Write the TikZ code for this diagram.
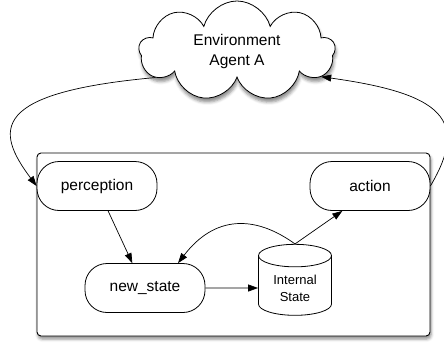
\documentclass[tikz,border=0pt]{standalone}
\usepackage{fontspec}
\setmainfont{Liberation Sans}
\usetikzlibrary{shapes.symbols,shapes.geometric,arrows.meta,shadows.blur}

\tikzset{
  frame/.style={draw, line width=0.9pt, rounded corners=4pt, fill=white,
    blur shadow={shadow xshift=1pt, shadow yshift=-3pt, shadow blur radius=3pt, shadow opacity=45}},
  stepbox/.style={draw, line width=0.8pt, rounded corners=22pt, fill=white,
    minimum width=120pt, minimum height=49pt, font=\fontsize{15.5}{18}\selectfont},
  store/.style={draw, line width=0.8pt, cylinder, shape border rotate=90, aspect=0.45,
    minimum width=73pt, minimum height=71pt, fill=white, align=center,
    font=\fontsize{13}{17}\selectfont},
  world/.style={draw, line width=0.8pt, cloud, cloud puffs=9, aspect=2.1, fill=white,
    minimum width=196pt, minimum height=100pt, align=center,
    blur shadow={shadow xshift=1pt, shadow yshift=-4pt, shadow blur radius=3pt, shadow opacity=45},
    font=\fontsize{15.5}{20}\selectfont},
  flow/.style={-{Triangle[length=10pt,width=7pt]}, line width=0.7pt}
}

\begin{document}
\begin{tikzpicture}[x=1pt,y=-1pt] %% pixel coordinates, y downwards
  \useasboundingbox (0,0) rectangle (444,345);

  %% the agent
  \node[frame, minimum width=393pt, minimum height=183pt] (agent) at (233.5,244.5) {};
  \node[stepbox] (perc) at (97,186) {perception};
  \node[stepbox] (act) at (370,186) {action};
  \node[stepbox] (new) at (145,288) {new\_state};
  \node[store] (state) at (295,288) {Internal\\State};

  %% the world round it
  \node[world] (env) at (237,51) {Environment\\Agent A};

  \draw[flow] (perc.294) -- (new.117);
  \draw[flow] (new.east) -- (state.west);
  \draw[flow] (state.north) -- (act.222);
  \draw[flow] (state.north) .. controls (255,215) and (215,215) .. (new.37);
  \draw[flow] (env.198) .. controls +(-165,15) and +(-42,-56) .. (perc.west);
  \draw[flow] (act.east) .. controls +(39,-66) and +(122,17) .. (env.343);
\end{tikzpicture}
\end{document}
